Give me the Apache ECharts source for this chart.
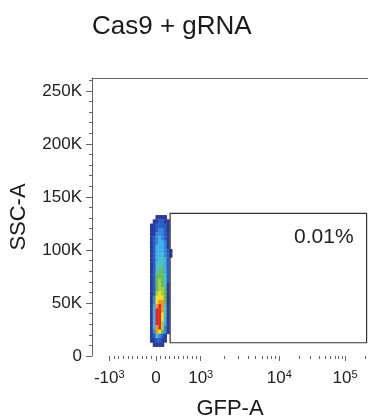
<!DOCTYPE html>
<html>
<head>
<meta charset="utf-8">
<script src="https://cdn.jsdelivr.net/npm/echarts@6/dist/echarts.min.js"></script>
<style>
html, body { margin: 0; padding: 0; background: #fff; }
#chart { width: 368px; height: 419px; }
</style>
</head>
<body>
<div id="chart"></div>
<script>
// 标题和坐标轴名称
var title = 'Cas9 + gRNA';
var xName = 'GFP-A';
var yName = 'SSC-A';

// GFP 主刻度：原始值、显示通道位置 (0-1000)、标签
var xTickVals = [-1000, 0, 1000, 10000, 100000];
var xTickCh = [62.7, 231.9, 393.8, 678.6, 916.7];
var xTickText = ['-10^3', '0', '10^3', '10^4', '10^5'];

// SSC 刻度
var yTicks = [0, 50000, 100000, 150000, 200000, 250000];
var yTickText = ['0', '50K', '100K', '150K', '200K', '250K'];
var yMinor = [10000, 20000, 30000, 40000, 60000, 70000, 80000, 90000, 110000, 120000, 130000, 140000,
    160000, 170000, 180000, 190000, 210000, 220000, 230000, 240000, 260000];
var yMax = 262144;

// gate (GFP 值, SSC 值)
var gateGFP = [316, 213000];
var gateSSC = [12500, 134500];
var gatePct = '0.01%';

// 密度图：每行一个字符串，从上往下，每个字符是密度等级 (0 空, 1-9, A 最高)
var binX0 = 200;     // 第一列的通道起点
var binW = 10;       // 通道宽度
var binTop = 133000; // 第一行上沿 SSC
var binH = 4000;
var density = [
    '000111100',
    '001122110',
    '011222210',
    '011233210',
    '011333210',
    '012343210',
    '012344310',
    '012444310',
    '012444321',
    '012445321',
    '012455420',
    '012555420',
    '012556420',
    '012566420',
    '012666520',
    '012676520',
    '012676510',
    '012677610',
    '012787610',
    '013888610',
    '013899610',
    '0149A9510',
    '014AA9510',
    '014AA8510',
    '014AA8410',
    '014AA7410',
    '0149A7310',
    '013986310',
    '012532100',
    '011221100',
    '001111000'
];

var palette = ['#2a3d9c', '#2c5cc5', '#3387dc', '#3fb0e6', '#48c2c4',
    '#66bd57', '#a6cf3a', '#f2df1f', '#f4951f', '#e52521'];

// 原始 GFP 值 -> 显示通道
function toCh(v) {
    var n = xTickVals.length;
    var i = 0;
    while (i < n - 2 && v > xTickVals[i + 1]) i++;
    var a = xTickVals[i], b = xTickVals[i + 1];
    var t;
    if (a >= 1000) {
        t = (Math.log10(v) - Math.log10(a)) / (Math.log10(b) - Math.log10(a));
    } else {
        t = (v - a) / (b - a);
    }
    return xTickCh[i] + t * (xTickCh[i + 1] - xTickCh[i]);
}

var xMinorCh = [];
for (var m = 1; m < 10; m++) {
    xMinorCh.push(toCh(-100 * m), toCh(100 * m));
    if (m > 1) xMinorCh.push(toCh(m * 1000), toCh(m * 10000));
}
xMinorCh.push(toCh(200000));

var cells = [];
density.forEach(function (row, r) {
    for (var c = 0; c < row.length; c++) {
        var lv = parseInt(row[c], 16);
        if (lv > 0) cells.push([binX0 + c * binW, binTop - (r + 1) * binH, lv]);
    }
});

function nearest(arr, v) {
    var best = 0;
    for (var i = 1; i < arr.length; i++) {
        if (Math.abs(arr[i] - v) < Math.abs(arr[best] - v)) best = i;
    }
    return best;
}

var font = '"Liberation Sans", Arial, sans-serif';
var axisGray = '#666';

var myChart = echarts.init(document.getElementById('chart'));
myChart.setOption({
    animation: false,
    title: {
        text: title,
        left: 92,
        top: 14,
        padding: 0,
        textStyle: { fontSize: 26, fontWeight: 'normal', color: '#1a1a1a', fontFamily: font }
    },
    grid: { left: 92, right: 0, top: 78, bottom: 63, outerBoundsMode: 'none' },
    xAxis: [{
        type: 'value', min: 0, max: 1000, position: 'bottom',
        name: xName, nameLocation: 'middle', nameGap: 42,
        nameTextStyle: { fontSize: 22, color: '#1a1a1a', fontFamily: font },
        axisLine: { show: false },
        splitLine: { show: false },
        axisTick: { show: true, customValues: xTickCh, length: 5, lineStyle: { color: axisGray } },
        axisLabel: {
            customValues: xTickCh, margin: 13, color: '#222', fontFamily: font,
            formatter: function (v) {
                var p = xTickText[nearest(xTickCh, v)].split('^');
                return p.length > 1 ? '{b|' + p[0] + '}{s|' + p[1] + '}' : '{b|' + p[0] + '}';
            },
            rich: {
                b: { fontSize: 17, lineHeight: 18, fontFamily: font, color: '#222' },
                s: { fontSize: 11, lineHeight: 8, verticalAlign: 'top', fontFamily: font, color: '#222' }
            }
        }
    }, {
        type: 'value', min: 0, max: 1000, position: 'bottom',
        axisLine: { show: false }, splitLine: { show: false }, axisLabel: { show: false },
        axisTick: { show: true, customValues: xMinorCh, length: 3, lineStyle: { color: axisGray } }
    }, {
        type: 'value', min: 0, max: 1000, position: 'top',
        axisLine: { show: true, lineStyle: { color: axisGray } },
        axisTick: { show: false }, axisLabel: { show: false }, splitLine: { show: false }
    }],
    yAxis: [{
        type: 'value', min: 0, max: yMax, position: 'left',
        name: yName, nameLocation: 'middle', nameGap: 62,
        nameTextStyle: { fontSize: 22, color: '#1a1a1a', fontFamily: font },
        axisLine: { show: true, lineStyle: { color: axisGray } },
        splitLine: { show: false },
        axisTick: { show: true, customValues: yTicks, length: 6, lineStyle: { color: axisGray } },
        axisLabel: {
            customValues: yTicks, margin: 10, fontSize: 17, color: '#222', fontFamily: font,
            formatter: function (v) { return yTickText[nearest(yTicks, v)]; }
        }
    }, {
        type: 'value', min: 0, max: yMax, position: 'left',
        axisLine: { show: false }, splitLine: { show: false }, axisLabel: { show: false },
        axisTick: { show: true, customValues: yMinor, length: 3, lineStyle: { color: axisGray } }
    }],
    series: [{
        // 密度
        type: 'custom',
        xAxisIndex: 0, yAxisIndex: 0,
        data: cells,
        renderItem: function (params, api) {
            var x = api.value(0), y = api.value(1);
            var p0 = api.coord([x, y + binH]);
            var p1 = api.coord([x + binW, y]);
            return {
                type: 'rect',
                shape: { x: p0[0], y: p0[1], width: p1[0] - p0[0] + 0.5, height: p1[1] - p0[1] + 0.5, r: 0.8 },
                style: { fill: palette[api.value(2) - 1] }
            };
        }
    }, {
        // gate
        type: 'custom',
        xAxisIndex: 0, yAxisIndex: 0,
        clip: false,
        data: [[toCh(gateGFP[0]), gateSSC[0], toCh(gateGFP[1]), gateSSC[1]]],
        renderItem: function (params, api) {
            var a = api.coord([api.value(0), api.value(3)]);
            var b = api.coord([api.value(2), api.value(1)]);
            return {
                type: 'group',
                children: [{
                    type: 'rect',
                    shape: { x: a[0], y: a[1], width: b[0] - a[0], height: b[1] - a[1] },
                    style: { fill: 'none', stroke: '#333', lineWidth: 1.2 }
                }, {
                    type: 'text',
                    x: b[0] - 13, y: a[1] + 13,
                    style: { text: gatePct, align: 'right', verticalAlign: 'top', fontSize: 21, fontFamily: font, fill: '#222' }
                }]
            };
        }
    }]
});
</script>
</body>
</html>
